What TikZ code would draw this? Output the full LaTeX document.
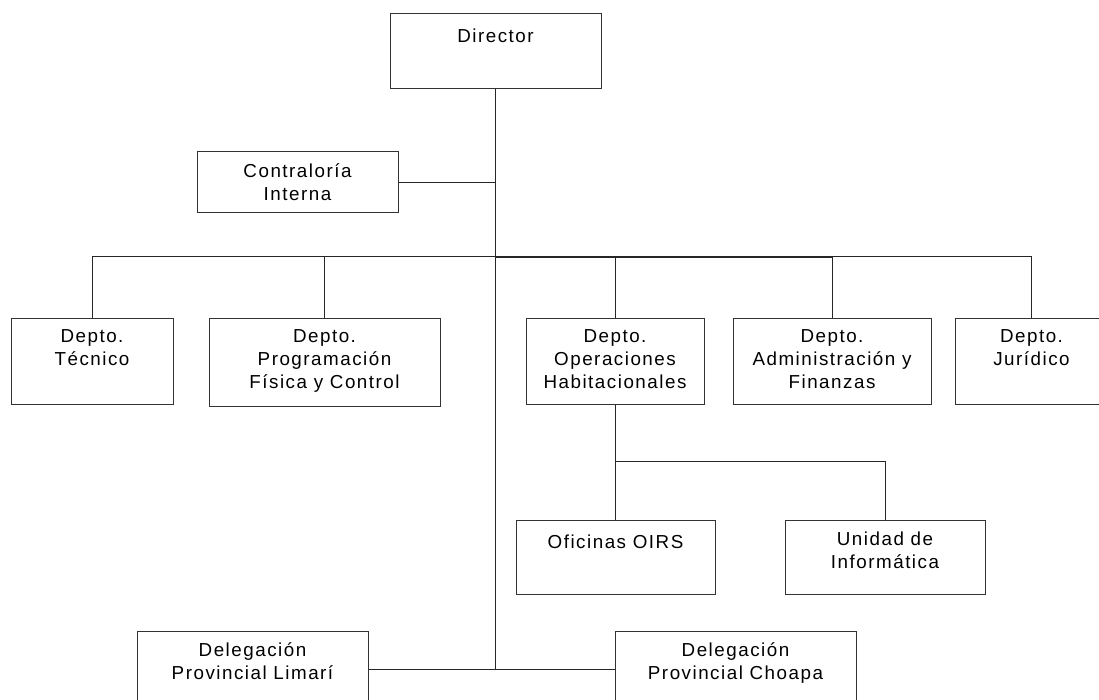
\documentclass[tikz,border=0pt]{standalone}
\usepackage{fontspec}
\setmainfont{Liberation Sans}[LetterSpace=8]
\begin{document}
\begin{tikzpicture}[x=1pt,y=-1pt,
  box/.style={draw=black!80,line width=1pt,inner sep=0pt,fill=white},
  txt/.style={anchor=north,inner sep=0pt,align=center,text=black,
    font=\fontsize{18.8}{23}\selectfont,execute at begin node={\rule{0pt}{17pt}}},
  con/.style={draw=black!85,line width=1pt},
  bus/.style={draw=black!85,line width=1.6pt}]
\useasboundingbox (0,0) rectangle (1099,700);
\clip (0,0) rectangle (1099,700);
\fill[white] (0,0) rectangle (1099,700);
% boxes
\node[box,minimum width=211pt,minimum height=75pt] (dir) at (495.5,51.5) {};
\node[box,minimum width=201pt,minimum height=61pt] (contr) at (297.5,182.5) {};
\node[box,minimum width=162pt,minimum height=86pt] (tec) at (92,361) {};
\node[box,minimum width=231pt,minimum height=88pt] (prog) at (324.5,362) {};
\node[box,minimum width=178pt,minimum height=86pt] (oper) at (615,361) {};
\node[box,minimum width=198pt,minimum height=86pt] (admin) at (832,361) {};
\node[box,minimum width=153pt,minimum height=86pt] (jur) at (1031.5,361) {};
\node[box,minimum width=199pt,minimum height=74pt] (ofi) at (615.5,557) {};
\node[box,minimum width=200pt,minimum height=74pt] (uni) at (885,557) {};
\node[box,minimum width=231pt,minimum height=76pt] (lim) at (252.5,669) {};
\node[box,minimum width=241pt,minimum height=76pt] (cho) at (735.5,669) {};
% texts
\node[txt] (tdir) at ([yshift=-12pt]dir.north) {Director};
\node[txt] (tcontr) at ([yshift=-12pt]contr.north) {Contraloría\\Interna};
\node[txt] (ttec) at ([yshift=-12pt]tec.north) {Depto.\\Técnico};
\node[txt] (tprog) at ([yshift=-12pt]prog.north) {Depto.\\Programación\\Física y Control};
\node[txt] (toper) at ([yshift=-12pt]oper.north) {Depto.\\Operaciones\\Habitacionales};
\node[txt] (tadmin) at ([yshift=-12pt]admin.north) {Depto.\\Administración y\\Finanzas};
\node[txt] (tjur) at ([yshift=-12pt]jur.north) {Depto.\\Jurídico};
\node[txt] (tofi) at ([yshift=-12pt]ofi.north) {Oficinas OIRS};
\node[txt] (tuni) at ([yshift=-12pt]uni.north) {Unidad de\\Informática};
\node[txt] (tlim) at ([yshift=-12pt]lim.north) {Delegación\\Provincial Limarí};
\node[txt] (tcho) at ([yshift=-12pt]cho.north) {Delegación\\Provincial Choapa};
% connectors
\coordinate (bj) at (495.5,257);
\coordinate (sj) at (615,461);
\draw[con] (dir.south) -- (dir.south |- lim.east);
\draw[con] (contr.east) -- (contr.east -| dir.south);
\draw[con] (tec.north) |- (jur.north |- bj) -- (jur.north);
\draw[bus] (dir.south |- bj) -- (admin.north |- bj);
\draw[con] (prog.north) -- (prog.north |- bj);
\draw[con] (oper.north) -- (oper.north |- bj);
\draw[con] (admin.north) -- (admin.north |- bj);
\draw[con] (oper.south) -- (sj) -| (uni.north);
\draw[con] (ofi.north) -- (ofi.north |- sj);
\draw[con] (lim.east) -- (cho.west);
\end{tikzpicture}
\end{document}
